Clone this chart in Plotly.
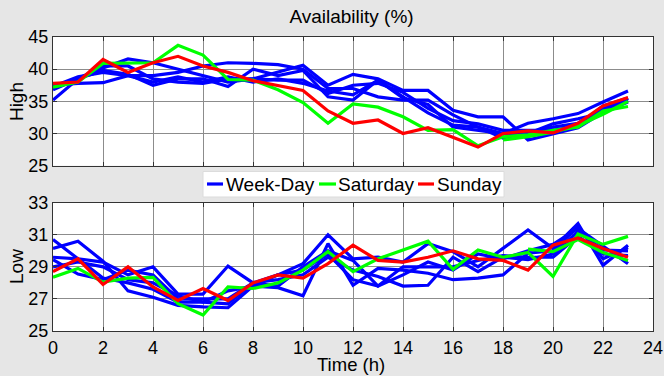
import plotly.graph_objects as go
from plotly.subplots import make_subplots

hours = list(range(24))

high_wd1 = [35.2, 38.5, 40.2, 41.6, 41.0, 40.0, 39.0, 38.0, 38.5, 39.5, 40.6, 37.5, 39.2, 38.5, 36.7, 36.7, 33.6, 32.6, 32.6, 29.0, 30.0, 30.9, 33.3, 34.9]
high_wd2 = [37.5, 37.8, 37.9, 39.0, 39.0, 39.5, 40.5, 41.0, 40.9, 40.7, 40.0, 37.0, 37.0, 35.7, 35.2, 35.2, 32.9, 31.0, 30.0, 31.6, 32.3, 33.1, 34.9, 36.6]
high_wd3 = [36.8, 38.5, 39.8, 39.2, 37.5, 38.5, 38.5, 37.3, 40.0, 39.0, 39.8, 35.7, 35.2, 38.3, 35.7, 33.2, 31.3, 31.0, 29.3, 30.2, 31.0, 31.6, 33.8, 35.2]
high_wd4 = [37.0, 38.5, 40.5, 40.5, 38.5, 38.0, 37.8, 38.5, 38.5, 38.3, 38.3, 36.2, 37.5, 37.8, 36.4, 33.9, 32.0, 31.5, 30.5, 30.5, 30.5, 31.2, 34.3, 35.5]
high_wd5 = [37.3, 38.8, 39.5, 39.0, 38.0, 38.8, 38.0, 38.8, 38.0, 38.5, 37.8, 36.6, 36.0, 38.3, 35.5, 34.5, 31.0, 30.5, 30.0, 30.0, 31.5, 32.3, 33.2, 35.5]
high_sat = [37.2, 38.0, 40.9, 41.0, 41.0, 43.7, 42.2, 38.4, 38.3, 36.8, 34.8, 31.6, 34.6, 34.1, 32.6, 30.5, 30.6, 28.1, 29.5, 29.8, 30.5, 31.0, 33.5, 34.2]
high_sat2_hours = [18, 19, 20, 21, 22, 23]
high_sat2 = [29.0, 29.5, 30.2, 31.2, 33.0, 35.0]
high_sun = [37.8, 38.0, 41.5, 39.5, 41.0, 42.0, 40.5, 39.5, 38.2, 37.5, 36.7, 33.5, 31.6, 32.1, 30.0, 30.9, 29.4, 27.9, 30.0, 30.4, 30.1, 31.6, 34.3, 35.6]

low_wd1 = [30.7, 29.5, 29.3, 28.5, 29.0, 27.3, 27.3, 29.05, 28.0, 28.5, 29.2, 31.0, 29.5, 29.6, 29.3, 30.45, 29.95, 29.0, 30.15, 31.3, 30.15, 31.7, 29.1, 30.35]
low_wd2 = [30.15, 30.6, 29.35, 27.5, 27.1, 26.6, 26.5, 26.45, 27.8, 27.7, 27.2, 30.45, 27.85, 28.9, 28.8, 28.6, 28.2, 28.3, 28.5, 29.85, 30.0, 31.5, 29.5, 30.2]
low_wd3 = [29.45, 28.55, 28.2, 28.8, 28.5, 27.0, 27.0, 27.0, 28.0, 28.2, 28.5, 29.6, 28.8, 28.4, 27.8, 27.85, 29.6, 28.7, 29.6, 29.45, 29.8, 31.2, 30.05, 30.0]
low_wd4 = [29.0, 29.3, 29.0, 28.2, 28.0, 27.2, 26.8, 27.5, 27.8, 28.5, 28.8, 29.8, 28.2, 27.8, 29.0, 29.0, 29.0, 29.4, 29.7, 29.6, 29.6, 30.9, 29.8, 29.7]
low_wd5 = [29.6, 29.5, 28.3, 28.0, 27.6, 26.8, 26.8, 26.7, 28.0, 27.8, 29.0, 30.0, 29.4, 27.8, 28.5, 29.3, 28.8, 29.8, 29.5, 30.0, 30.4, 31.4, 30.3, 29.2]
low_sat = [28.35, 28.9, 28.05, 28.3, 28.35, 26.7, 26.0, 27.75, 27.65, 28.0, 28.8, 29.95, 28.7, 29.5, 30.05, 30.6, 28.85, 30.05, 29.6, 29.9, 28.4, 31.05, 30.4, 30.9]
low_sat2_hours = [19, 20, 21, 22, 23]
low_sat2 = [30.1, 29.95, 30.7, 29.9, 29.4]
low_sun = [28.7, 29.5, 27.9, 29.0, 27.75, 26.9, 27.65, 26.9, 28.0, 28.5, 28.3, 29.2, 30.35, 29.4, 29.3, 29.6, 30.0, 29.5, 29.4, 28.8, 30.35, 30.8, 30.15, 29.6]

legend_names = ["Week-Day", "Saturday", "Sunday"]

BLUE, GREEN, RED = "#0000ff", "#00ff00", "#ff0000"
legend_colors = [BLUE, GREEN, RED]
LW = 3.2
FONT = "Liberation Sans, Arial, sans-serif"
FS_TICK = 18
FS = 19

fig = make_subplots(rows=2, cols=1, shared_xaxes=False, vertical_spacing=0.0)

def add(x, y, color, name, row):
    fig.add_trace(go.Scatter(x=x, y=y, mode="lines", line=dict(color=color, width=LW),
                             name=name, legendgroup=name, showlegend=False), row=row, col=1)

for s in [high_wd1, high_wd2, high_wd3, high_wd4, high_wd5]:
    add(hours, s, BLUE, "Week-Day", 1)
add(hours, high_sat, GREEN, "Saturday", 1)
add(high_sat2_hours, high_sat2, GREEN, "Saturday", 1)
add(hours, high_sun, RED, "Sunday", 1)

for s in [low_wd1, low_wd2, low_wd3, low_wd4, low_wd5]:
    add(hours, s, BLUE, "Week-Day", 2)
add(hours, low_sat, GREEN, "Saturday", 2)
add(low_sat2_hours, low_sat2, GREEN, "Saturday", 2)
add(hours, low_sun, RED, "Sunday", 2)

axis_common = dict(showline=True, mirror="ticks", linecolor="#333333", linewidth=1,
                   showgrid=True, gridcolor="#8c8c8c", gridwidth=1,
                   ticks="inside", ticklen=4, tickcolor="#333333",
                   tickfont=dict(family=FONT, size=FS_TICK, color="#000"),
                   zeroline=False, automargin=False)

fig.update_layout(
    width=664, height=376,
    paper_bgcolor="#e6e6e6", plot_bgcolor="#ffffff",
    margin=dict(l=53, r=11, t=37, b=45),
    font=dict(family=FONT, size=FS, color="#000"),
    title=dict(text="Availability (%)", x=0.5294, xanchor="center",
               y=0.9574, yanchor="middle", font=dict(size=FS)),
    showlegend=False,
)

fig.update_xaxes(**axis_common, range=[0, 24], dtick=2, tick0=0)
fig.update_xaxes(showticklabels=False, row=1, col=1)
fig.update_layout(xaxis=dict(domain=[0, 1]), xaxis2=dict(domain=[0, 1]),
                  yaxis=dict(domain=[0.5622, 1]), yaxis2=dict(domain=[0, 0.4364]))
fig.update_yaxes(**axis_common)
fig.update_yaxes(range=[25, 45], dtick=5, tick0=25, row=1, col=1)
fig.update_yaxes(range=[25, 33], dtick=2, tick0=25, row=2, col=1)

# axis titles
fig.add_annotation(text="Time (h)", xref="paper", yref="paper", x=0.497, y=-0.1156,
                   xanchor="center", yanchor="middle", showarrow=False,
                   font=dict(size=18.5), borderpad=0)
fig.add_annotation(text="High", xref="paper", yref="paper", x=-0.0617, y=0.782,
                   xanchor="center", yanchor="middle", textangle=-90, showarrow=False,
                   font=dict(size=FS))
fig.add_annotation(text="Low", xref="paper", yref="paper", x=-0.0617, y=0.221,
                   xanchor="center", yanchor="middle", textangle=-90, showarrow=False,
                   font=dict(size=FS))

# legend box (MATLAB-style, compact line samples)
fig.add_shape(type="rect", xref="paper", yref="paper", x0=0.25, x1=0.7517, y0=0.4558, y1=0.5425,
              fillcolor="#ffffff", line=dict(color="#dcdcdc", width=1), layer="above")
sample_x = [(0.2567, 0.2833), (0.4433, 0.4717), (0.6083, 0.635)]
text_x = [0.2867, 0.4733, 0.6383]
for name, col, (a, b), tx in zip(legend_names, legend_colors, sample_x, text_x):
    fig.add_shape(type="line", xref="paper", yref="paper", x0=a, x1=b, y0=0.5, y1=0.5,
                  line=dict(color=col, width=LW), layer="above")
    fig.add_annotation(text=name, xref="paper", yref="paper", x=tx, y=0.5,
                       xanchor="left", yanchor="middle", showarrow=False,
                       font=dict(size=FS), borderpad=0)

fig.write_html("out.html", config={"displayModeBar": False},
               post_script="document.body.style.margin='0';document.body.style.padding='0';document.body.style.overflow='hidden';")
